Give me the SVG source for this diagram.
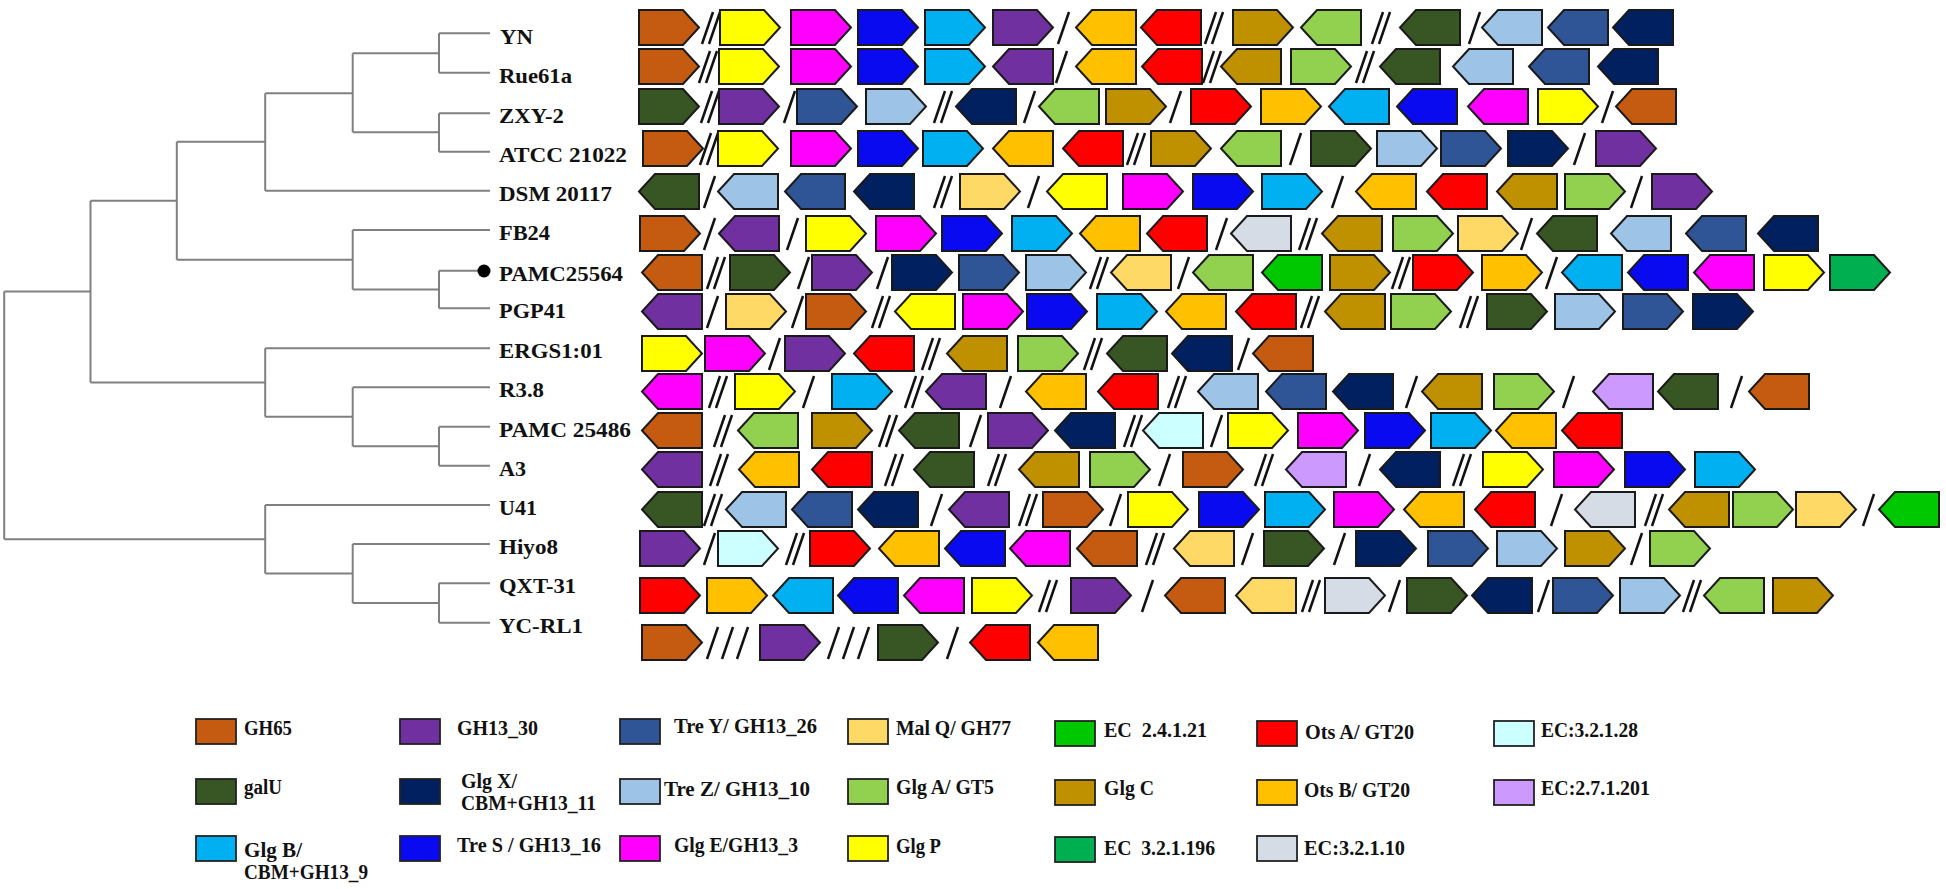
<svg xmlns="http://www.w3.org/2000/svg" xmlns:xlink="http://www.w3.org/1999/xlink" width="1946" height="889" viewBox="0 0 1946 889">
<style>
.lbl{font-family:"Liberation Serif","Times New Roman",serif;font-weight:bold;font-size:21px;fill:#111}
.lg{font-family:"Liberation Serif","Times New Roman",serif;font-weight:bold;font-size:20px;fill:#111;white-space:pre}
.tree{fill:none;stroke:#808080;stroke-width:2}
.sep line{stroke:#111;stroke-width:2.5}
.lb{stroke:#222;stroke-width:1.8}
.c65{fill:#C55A11}.c30{fill:#7030A0}.cTY{fill:#2F5597}.cMQ{fill:#FFD966}.cE21{fill:#00C800}
.cOA{fill:#FF0000}.cE28{fill:#CCFFFF}.cGU{fill:#375623}.cGX{fill:#002060}.cTZ{fill:#9DC3E6}
.cGA{fill:#92D050}.cGC{fill:#BF9000}.cOB{fill:#FFC000}.cE201{fill:#CC99FF}.cGB{fill:#00B0F0}
.cTS{fill:#0A0AF0}.cGE{fill:#FF00FF}.cGP{fill:#FFFF00}.cE196{fill:#00B050}.cE10{fill:#D6DCE5}
</style>
<defs>
<path id="R" d="M0 0 H44 L60 17.5 L44 35 H0 Z" stroke="#1a1a1a" stroke-width="2" stroke-linejoin="miter"/>
<path id="L" d="M60 0 H16 L0 17.5 L16 35 H60 Z" stroke="#1a1a1a" stroke-width="2" stroke-linejoin="miter"/>
<g id="s1" class="sep"><line x1="0" y1="34" x2="11" y2="2"/></g>
<g id="s2" class="sep"><line x1="0" y1="34" x2="11" y2="2"/><line x1="7" y1="34" x2="18" y2="2"/></g>
<g id="s3" class="sep"><line x1="0" y1="34" x2="11" y2="2"/><line x1="15" y1="34" x2="26" y2="2"/><line x1="30" y1="34" x2="41" y2="2"/></g>
</defs>
<rect width="1946" height="889" fill="#fff"/>

<g id="connectors" class="tree">
<path d="M439 33.3H490M439 72.7H490M439 33.3V72.7M439 113.3H490M439 151.7H490M439 113.3V151.7M352.7 53.3H439M352.7 132.3H439M352.7 53.3V132.3M265.2 93.3H352.7M265.2 190.7H490M265.2 93.3V190.7M176.8 141.7H265.2"/>
<path d="M352.7 230H490M439 270.7H478M439 308.3H490M439 270.7V308.3M352.7 289.5H439M352.7 230V289.5M176.8 259.7H352.7M176.8 141.7V259.7M90.5 200.7H176.8"/>
<path d="M265.2 348.3H490M352.7 387.3H490M439 426.7H490M439 465.7H490M439 426.7V465.7M352.7 446.2H439M352.7 387.3V446.2M265.2 416.7H352.7M265.2 348.3V416.7M90.5 382.5H265.2M90.5 200.7V382.5M4.2 291.6H90.5"/>
<path d="M265.2 505H490M352.7 544H490M439 583.3H490M439 622.7H490M439 583.3V622.7M352.7 603H439M352.7 544V603M265.2 573.5H352.7M265.2 505V573.5M4.2 539.2H265.2M4.2 291.6V539.2"/>
</g>

<g id="row-YN">
<text class="lbl" x="500" y="43.5" textLength="33" lengthAdjust="spacingAndGlyphs">YN</text>
<use href="#R" x="639" y="10" class="c65"/><use href="#s2" x="702" y="10"/><use href="#R" x="720" y="10" class="cGP"/><use href="#R" x="791" y="10" class="cGE"/><use href="#R" x="858" y="10" class="cTS"/><use href="#R" x="925" y="10" class="cGB"/><use href="#R" x="993" y="10" class="c30"/><use href="#s1" x="1058" y="10"/><use href="#L" x="1076" y="10" class="cOB"/><use href="#L" x="1141" y="10" class="cOA"/><use href="#s2" x="1205" y="10"/><use href="#R" x="1233" y="10" class="cGC"/><use href="#L" x="1301" y="10" class="cGA"/><use href="#s2" x="1372" y="10"/><use href="#L" x="1400" y="10" class="cGU"/><use href="#s1" x="1469" y="10"/><use href="#L" x="1482" y="10" class="cTZ"/><use href="#L" x="1548" y="10" class="cTY"/><use href="#L" x="1613" y="10" class="cGX"/>
</g>
<g id="row-Rue61a">
<text class="lbl" x="499" y="83" textLength="73" lengthAdjust="spacingAndGlyphs">Rue61a</text>
<use href="#R" x="639" y="49" class="c65"/><use href="#s2" x="699" y="49"/><use href="#R" x="719" y="49" class="cGP"/><use href="#R" x="791" y="49" class="cGE"/><use href="#R" x="858" y="49" class="cTS"/><use href="#R" x="925" y="49" class="cGB"/><use href="#L" x="993" y="49" class="c30"/><use href="#s1" x="1056" y="49"/><use href="#L" x="1076" y="49" class="cOB"/><use href="#L" x="1142" y="49" class="cOA"/><use href="#s2" x="1203" y="49"/><use href="#L" x="1221" y="49" class="cGC"/><use href="#R" x="1291" y="49" class="cGA"/><use href="#s2" x="1356" y="49"/><use href="#L" x="1380" y="49" class="cGU"/><use href="#L" x="1453" y="49" class="cTZ"/><use href="#L" x="1529" y="49" class="cTY"/><use href="#L" x="1598" y="49" class="cGX"/>
</g>
<g id="row-ZXY-2">
<text class="lbl" x="499" y="123" textLength="65" lengthAdjust="spacingAndGlyphs">ZXY-2</text>
<use href="#R" x="639" y="89" class="cGU"/><use href="#s2" x="701" y="89"/><use href="#R" x="719" y="89" class="c30"/><use href="#s1" x="784" y="89"/><use href="#R" x="797" y="89" class="cTY"/><use href="#R" x="866" y="89" class="cTZ"/><use href="#s2" x="934" y="89"/><use href="#L" x="956" y="89" class="cGX"/><use href="#s1" x="1024" y="89"/><use href="#L" x="1039" y="89" class="cGA"/><use href="#R" x="1106" y="89" class="cGC"/><use href="#s1" x="1170" y="89"/><use href="#R" x="1191" y="89" class="cOA"/><use href="#R" x="1261" y="89" class="cOB"/><use href="#L" x="1329" y="89" class="cGB"/><use href="#L" x="1397" y="89" class="cTS"/><use href="#L" x="1468" y="89" class="cGE"/><use href="#R" x="1538" y="89" class="cGP"/><use href="#s1" x="1602" y="89"/><use href="#L" x="1616" y="89" class="c65"/>
</g>
<g id="row-ATCC21022">
<text class="lbl" x="499" y="162" textLength="128" lengthAdjust="spacingAndGlyphs">ATCC 21022</text>
<use href="#R" x="643" y="131" class="c65"/><use href="#s2" x="700" y="131"/><use href="#R" x="718" y="131" class="cGP"/><use href="#R" x="791" y="131" class="cGE"/><use href="#R" x="858" y="131" class="cTS"/><use href="#R" x="923" y="131" class="cGB"/><use href="#L" x="993" y="131" class="cOB"/><use href="#L" x="1063" y="131" class="cOA"/><use href="#s2" x="1127" y="131"/><use href="#R" x="1151" y="131" class="cGC"/><use href="#L" x="1221" y="131" class="cGA"/><use href="#s1" x="1290" y="131"/><use href="#R" x="1311" y="131" class="cGU"/><use href="#R" x="1377" y="131" class="cTZ"/><use href="#R" x="1441" y="131" class="cTY"/><use href="#R" x="1508" y="131" class="cGX"/><use href="#s1" x="1574" y="131"/><use href="#R" x="1596" y="131" class="c30"/>
</g>
<g id="row-DSM20117">
<text class="lbl" x="499" y="201" textLength="113" lengthAdjust="spacingAndGlyphs">DSM 20117</text>
<use href="#L" x="639" y="174" class="cGU"/><use href="#s1" x="704" y="174"/><use href="#L" x="718" y="174" class="cTZ"/><use href="#L" x="785" y="174" class="cTY"/><use href="#L" x="854" y="174" class="cGX"/><use href="#s2" x="934" y="174"/><use href="#R" x="960" y="174" class="cMQ"/><use href="#s1" x="1028" y="174"/><use href="#L" x="1047" y="174" class="cGP"/><use href="#R" x="1123" y="174" class="cGE"/><use href="#R" x="1193" y="174" class="cTS"/><use href="#R" x="1262" y="174" class="cGB"/><use href="#s1" x="1332" y="174"/><use href="#L" x="1356" y="174" class="cOB"/><use href="#L" x="1427" y="174" class="cOA"/><use href="#L" x="1497" y="174" class="cGC"/><use href="#R" x="1565" y="174" class="cGA"/><use href="#s1" x="1631" y="174"/><use href="#R" x="1652" y="174" class="c30"/>
</g>
<g id="row-FB24">
<text class="lbl" x="499" y="240" textLength="51" lengthAdjust="spacingAndGlyphs">FB24</text>
<use href="#R" x="640" y="216" class="c65"/><use href="#s1" x="704" y="216"/><use href="#L" x="719" y="216" class="c30"/><use href="#s1" x="787" y="216"/><use href="#R" x="806" y="216" class="cGP"/><use href="#R" x="876" y="216" class="cGE"/><use href="#R" x="942" y="216" class="cTS"/><use href="#R" x="1012" y="216" class="cGB"/><use href="#L" x="1080" y="216" class="cOB"/><use href="#L" x="1147" y="216" class="cOA"/><use href="#s1" x="1216" y="216"/><use href="#L" x="1231" y="216" class="cE10"/><use href="#s2" x="1299" y="216"/><use href="#L" x="1322" y="216" class="cGC"/><use href="#R" x="1393" y="216" class="cGA"/><use href="#R" x="1458" y="216" class="cMQ"/><use href="#s1" x="1521" y="216"/><use href="#L" x="1537" y="216" class="cGU"/><use href="#L" x="1611" y="216" class="cTZ"/><use href="#L" x="1686" y="216" class="cTY"/><use href="#L" x="1758" y="216" class="cGX"/>
</g>
<g id="row-PAMC25564">
<circle cx="484" cy="271" r="6.5" fill="#000"/>
<text class="lbl" x="499" y="281" textLength="124" lengthAdjust="spacingAndGlyphs">PAMC25564</text>
<use href="#L" x="642" y="255" class="c65"/><use href="#s2" x="707" y="255"/><use href="#R" x="730" y="255" class="cGU"/><use href="#s1" x="798" y="255"/><use href="#R" x="812" y="255" class="c30"/><use href="#s1" x="877" y="255"/><use href="#R" x="892" y="255" class="cGX"/><use href="#R" x="959" y="255" class="cTY"/><use href="#R" x="1026" y="255" class="cTZ"/><use href="#s2" x="1090" y="255"/><use href="#L" x="1111" y="255" class="cMQ"/><use href="#s1" x="1178" y="255"/><use href="#L" x="1193" y="255" class="cGA"/><use href="#L" x="1262" y="255" class="cE21"/><use href="#R" x="1330" y="255" class="cGC"/><use href="#s2" x="1392" y="255"/><use href="#R" x="1413" y="255" class="cOA"/><use href="#R" x="1482" y="255" class="cOB"/><use href="#s1" x="1546" y="255"/><use href="#L" x="1562" y="255" class="cGB"/><use href="#L" x="1628" y="255" class="cTS"/><use href="#L" x="1694" y="255" class="cGE"/><use href="#R" x="1764" y="255" class="cGP"/><use href="#R" x="1830" y="255" class="cE196"/>
</g>
<g id="row-PGP41">
<text class="lbl" x="499" y="318" textLength="67" lengthAdjust="spacingAndGlyphs">PGP41</text>
<use href="#L" x="642" y="294" class="c30"/><use href="#s1" x="707" y="294"/><use href="#R" x="726" y="294" class="cMQ"/><use href="#s1" x="792" y="294"/><use href="#R" x="806" y="294" class="c65"/><use href="#s2" x="872" y="294"/><use href="#L" x="895" y="294" class="cGP"/><use href="#R" x="963" y="294" class="cGE"/><use href="#R" x="1027" y="294" class="cTS"/><use href="#R" x="1097" y="294" class="cGB"/><use href="#L" x="1166" y="294" class="cOB"/><use href="#L" x="1236" y="294" class="cOA"/><use href="#s2" x="1301" y="294"/><use href="#L" x="1325" y="294" class="cGC"/><use href="#R" x="1391" y="294" class="cGA"/><use href="#s2" x="1460" y="294"/><use href="#R" x="1487" y="294" class="cGU"/><use href="#R" x="1555" y="294" class="cTZ"/><use href="#R" x="1623" y="294" class="cTY"/><use href="#R" x="1693" y="294" class="cGX"/>
</g>
<g id="row-ERGS1-01">
<text class="lbl" x="499" y="358" textLength="104" lengthAdjust="spacingAndGlyphs">ERGS1:01</text>
<use href="#R" x="642" y="336" class="cGP"/><use href="#R" x="705" y="336" class="cGE"/><use href="#s1" x="769" y="336"/><use href="#R" x="785" y="336" class="c30"/><use href="#L" x="854" y="336" class="cOA"/><use href="#s2" x="922" y="336"/><use href="#L" x="947" y="336" class="cGC"/><use href="#R" x="1018" y="336" class="cGA"/><use href="#s2" x="1084" y="336"/><use href="#L" x="1107" y="336" class="cGU"/><use href="#L" x="1172" y="336" class="cGX"/><use href="#s1" x="1238" y="336"/><use href="#L" x="1253" y="336" class="c65"/>
</g>
<g id="row-R3.8">
<text class="lbl" x="499" y="397" textLength="45" lengthAdjust="spacingAndGlyphs">R3.8</text>
<use href="#L" x="642" y="374" class="cGE"/><use href="#s2" x="709" y="374"/><use href="#R" x="735" y="374" class="cGP"/><use href="#s1" x="803" y="374"/><use href="#R" x="832" y="374" class="cGB"/><use href="#s2" x="905" y="374"/><use href="#L" x="926" y="374" class="c30"/><use href="#s1" x="1000" y="374"/><use href="#L" x="1026" y="374" class="cOB"/><use href="#L" x="1098" y="374" class="cOA"/><use href="#s2" x="1168" y="374"/><use href="#L" x="1198" y="374" class="cTZ"/><use href="#L" x="1266" y="374" class="cTY"/><use href="#L" x="1333" y="374" class="cGX"/><use href="#s1" x="1406" y="374"/><use href="#L" x="1422" y="374" class="cGC"/><use href="#R" x="1494" y="374" class="cGA"/><use href="#s1" x="1563" y="374"/><use href="#L" x="1593" y="374" class="cE201"/><use href="#L" x="1658" y="374" class="cGU"/><use href="#s1" x="1731" y="374"/><use href="#L" x="1749" y="374" class="c65"/>
</g>
<g id="row-PAMC25486">
<text class="lbl" x="499" y="437" textLength="132" lengthAdjust="spacingAndGlyphs">PAMC 25486</text>
<use href="#L" x="642" y="413" class="c65"/><use href="#s2" x="714" y="413"/><use href="#L" x="738" y="413" class="cGA"/><use href="#R" x="812" y="413" class="cGC"/><use href="#s2" x="879" y="413"/><use href="#L" x="899" y="413" class="cGU"/><use href="#s1" x="970" y="413"/><use href="#R" x="988" y="413" class="c30"/><use href="#L" x="1055" y="413" class="cGX"/><use href="#s2" x="1124" y="413"/><use href="#L" x="1143" y="413" class="cE28"/><use href="#s1" x="1211" y="413"/><use href="#R" x="1228" y="413" class="cGP"/><use href="#R" x="1298" y="413" class="cGE"/><use href="#R" x="1365" y="413" class="cTS"/><use href="#R" x="1431" y="413" class="cGB"/><use href="#L" x="1496" y="413" class="cOB"/><use href="#L" x="1562" y="413" class="cOA"/>
</g>
<g id="row-A3">
<text class="lbl" x="499" y="476" textLength="27" lengthAdjust="spacingAndGlyphs">A3</text>
<use href="#L" x="642" y="452" class="c30"/><use href="#s2" x="710" y="452"/><use href="#L" x="739" y="452" class="cOB"/><use href="#L" x="812" y="452" class="cOA"/><use href="#s2" x="885" y="452"/><use href="#L" x="914" y="452" class="cGU"/><use href="#s2" x="988" y="452"/><use href="#L" x="1019" y="452" class="cGC"/><use href="#R" x="1090" y="452" class="cGA"/><use href="#s1" x="1159" y="452"/><use href="#R" x="1183" y="452" class="c65"/><use href="#s2" x="1255" y="452"/><use href="#L" x="1286" y="452" class="cE201"/><use href="#s1" x="1359" y="452"/><use href="#L" x="1380" y="452" class="cGX"/><use href="#s2" x="1453" y="452"/><use href="#R" x="1483" y="452" class="cGP"/><use href="#R" x="1554" y="452" class="cGE"/><use href="#R" x="1625" y="452" class="cTS"/><use href="#R" x="1695" y="452" class="cGB"/>
</g>
<g id="row-U41">
<text class="lbl" x="499" y="515" textLength="38" lengthAdjust="spacingAndGlyphs">U41</text>
<use href="#L" x="642" y="492" class="cGU"/><use href="#s2" x="704" y="492"/><use href="#L" x="726" y="492" class="cTZ"/><use href="#L" x="792" y="492" class="cTY"/><use href="#L" x="858" y="492" class="cGX"/><use href="#s1" x="931" y="492"/><use href="#L" x="949" y="492" class="c30"/><use href="#s2" x="1019" y="492"/><use href="#R" x="1043" y="492" class="c65"/><use href="#s1" x="1110" y="492"/><use href="#R" x="1128" y="492" class="cGP"/><use href="#R" x="1199" y="492" class="cTS"/><use href="#R" x="1265" y="492" class="cGB"/><use href="#R" x="1334" y="492" class="cGE"/><use href="#L" x="1404" y="492" class="cOB"/><use href="#L" x="1475" y="492" class="cOA"/><use href="#s1" x="1551" y="492"/><use href="#L" x="1575" y="492" class="cE10"/><use href="#s2" x="1645" y="492"/><use href="#L" x="1669" y="492" class="cGC"/><use href="#R" x="1733" y="492" class="cGA"/><use href="#R" x="1796" y="492" class="cMQ"/><use href="#s1" x="1863" y="492"/><use href="#L" x="1879" y="492" class="cE21"/>
</g>
<g id="row-Hiyo8">
<text class="lbl" x="499" y="554" textLength="59" lengthAdjust="spacingAndGlyphs">Hiyo8</text>
<use href="#R" x="640" y="531" class="c30"/><use href="#s1" x="704" y="531"/><use href="#R" x="718" y="531" class="cE28"/><use href="#s2" x="786" y="531"/><use href="#R" x="810" y="531" class="cOA"/><use href="#L" x="879" y="531" class="cOB"/><use href="#L" x="945" y="531" class="cTS"/><use href="#L" x="1010" y="531" class="cGE"/><use href="#L" x="1077" y="531" class="c65"/><use href="#s2" x="1146" y="531"/><use href="#L" x="1174" y="531" class="cMQ"/><use href="#s1" x="1242" y="531"/><use href="#R" x="1264" y="531" class="cGU"/><use href="#s1" x="1334" y="531"/><use href="#R" x="1356" y="531" class="cGX"/><use href="#R" x="1428" y="531" class="cTY"/><use href="#R" x="1497" y="531" class="cTZ"/><use href="#R" x="1565" y="531" class="cGC"/><use href="#s1" x="1631" y="531"/><use href="#R" x="1650" y="531" class="cGA"/>
</g>
<g id="row-QXT-31">
<text class="lbl" x="499" y="593" textLength="77" lengthAdjust="spacingAndGlyphs">QXT-31</text>
<use href="#R" x="640" y="578" class="cOA"/><use href="#R" x="707" y="578" class="cOB"/><use href="#L" x="773" y="578" class="cGB"/><use href="#L" x="838" y="578" class="cTS"/><use href="#L" x="904" y="578" class="cGE"/><use href="#R" x="972" y="578" class="cGP"/><use href="#s2" x="1039" y="578"/><use href="#R" x="1071" y="578" class="c30"/><use href="#s1" x="1142" y="578"/><use href="#L" x="1165" y="578" class="c65"/><use href="#L" x="1236" y="578" class="cMQ"/><use href="#s2" x="1302" y="578"/><use href="#R" x="1325" y="578" class="cE10"/><use href="#s1" x="1389" y="578"/><use href="#R" x="1407" y="578" class="cGU"/><use href="#L" x="1472" y="578" class="cGX"/><use href="#s1" x="1538" y="578"/><use href="#R" x="1553" y="578" class="cTY"/><use href="#R" x="1620" y="578" class="cTZ"/><use href="#s2" x="1683" y="578"/><use href="#L" x="1704" y="578" class="cGA"/><use href="#R" x="1773" y="578" class="cGC"/>
</g>
<g id="row-YC-RL1">
<text class="lbl" x="499" y="633" textLength="84" lengthAdjust="spacingAndGlyphs">YC-RL1</text>
<use href="#R" x="642" y="625" class="c65"/><use href="#s3" x="707" y="625"/><use href="#R" x="760" y="625" class="c30"/><use href="#s3" x="828" y="625"/><use href="#R" x="878" y="625" class="cGU"/><use href="#s1" x="947" y="625"/><use href="#L" x="970" y="625" class="cOA"/><use href="#L" x="1038" y="625" class="cOB"/>
</g>

<g id="legend">
<g id="lg-GH65"><rect class="lb c65" x="196" y="719" width="40" height="25"/><text class="lg" x="244" y="735" textLength="48" lengthAdjust="spacingAndGlyphs">GH65</text></g>
<g id="lg-galU"><rect class="lb cGU" x="196" y="779" width="40" height="25"/><text class="lg" x="244" y="794" textLength="38" lengthAdjust="spacingAndGlyphs">galU</text></g>
<g id="lg-GlgB"><rect class="lb cGB" x="196" y="836" width="40" height="25"/><text class="lg" x="244" y="857" textLength="58" lengthAdjust="spacingAndGlyphs">Glg B/</text><text class="lg" x="244" y="879" textLength="124" lengthAdjust="spacingAndGlyphs">CBM+GH13_9</text></g>
<g id="lg-GH13_30"><rect class="lb c30" x="400" y="719" width="40" height="25"/><text class="lg" x="457" y="735" textLength="81" lengthAdjust="spacingAndGlyphs">GH13_30</text></g>
<g id="lg-GlgX"><rect class="lb cGX" x="400" y="779" width="40" height="25"/><text class="lg" x="461" y="788" textLength="56" lengthAdjust="spacingAndGlyphs">Glg X/</text><text class="lg" x="461" y="810" textLength="135" lengthAdjust="spacingAndGlyphs">CBM+GH13_11</text></g>
<g id="lg-TreS"><rect class="lb cTS" x="400" y="836" width="40" height="25"/><text class="lg" x="457" y="852" textLength="144" lengthAdjust="spacingAndGlyphs">Tre S / GH13_16</text></g>
<g id="lg-TreY"><rect class="lb cTY" x="620" y="719" width="40" height="25"/><text class="lg" x="674" y="733" textLength="143" lengthAdjust="spacingAndGlyphs">Tre Y/ GH13_26</text></g>
<g id="lg-TreZ"><rect class="lb cTZ" x="620" y="779" width="40" height="25"/><text class="lg" x="664" y="796" textLength="146" lengthAdjust="spacingAndGlyphs">Tre Z/ GH13_10</text></g>
<g id="lg-GlgE"><rect class="lb cGE" x="620" y="836" width="40" height="25"/><text class="lg" x="674" y="852" textLength="124" lengthAdjust="spacingAndGlyphs">Glg E/GH13_3</text></g>
<g id="lg-MalQ"><rect class="lb cMQ" x="848" y="719" width="40" height="25"/><text class="lg" x="896" y="735" textLength="115" lengthAdjust="spacingAndGlyphs">Mal Q/ GH77</text></g>
<g id="lg-GlgA"><rect class="lb cGA" x="848" y="779" width="40" height="25"/><text class="lg" x="896" y="794" textLength="98" lengthAdjust="spacingAndGlyphs">Glg A/ GT5</text></g>
<g id="lg-GlgP"><rect class="lb cGP" x="848" y="836" width="40" height="25"/><text class="lg" x="896" y="853" textLength="45" lengthAdjust="spacingAndGlyphs">Glg P</text></g>
<g id="lg-EC2.4.1.21"><rect class="lb cE21" x="1055" y="721" width="40" height="25"/><text class="lg" x="1104" y="737" textLength="103" lengthAdjust="spacingAndGlyphs">EC  2.4.1.21</text></g>
<g id="lg-GlgC"><rect class="lb cGC" x="1055" y="780" width="40" height="25"/><text class="lg" x="1104" y="795" textLength="50" lengthAdjust="spacingAndGlyphs">Glg C</text></g>
<g id="lg-EC3.2.1.196"><rect class="lb cE196" x="1055" y="837" width="40" height="25"/><text class="lg" x="1104" y="855" textLength="111" lengthAdjust="spacingAndGlyphs">EC  3.2.1.196</text></g>
<g id="lg-OtsA"><rect class="lb cOA" x="1257" y="721" width="40" height="25"/><text class="lg" x="1305" y="739" textLength="109" lengthAdjust="spacingAndGlyphs">Ots A/ GT20</text></g>
<g id="lg-OtsB"><rect class="lb cOB" x="1257" y="780" width="40" height="25"/><text class="lg" x="1304" y="797" textLength="106" lengthAdjust="spacingAndGlyphs">Ots B/ GT20</text></g>
<g id="lg-EC3.2.1.10"><rect class="lb cE10" x="1257" y="836" width="40" height="25"/><text class="lg" x="1304" y="855" textLength="101" lengthAdjust="spacingAndGlyphs">EC:3.2.1.10</text></g>
<g id="lg-EC3.2.1.28"><rect class="lb cE28" x="1494" y="721" width="40" height="25"/><text class="lg" x="1541" y="737" textLength="97" lengthAdjust="spacingAndGlyphs">EC:3.2.1.28</text></g>
<g id="lg-EC2.7.1.201"><rect class="lb cE201" x="1494" y="780" width="40" height="25"/><text class="lg" x="1541" y="795" textLength="109" lengthAdjust="spacingAndGlyphs">EC:2.7.1.201</text></g>
</g>
</svg>
